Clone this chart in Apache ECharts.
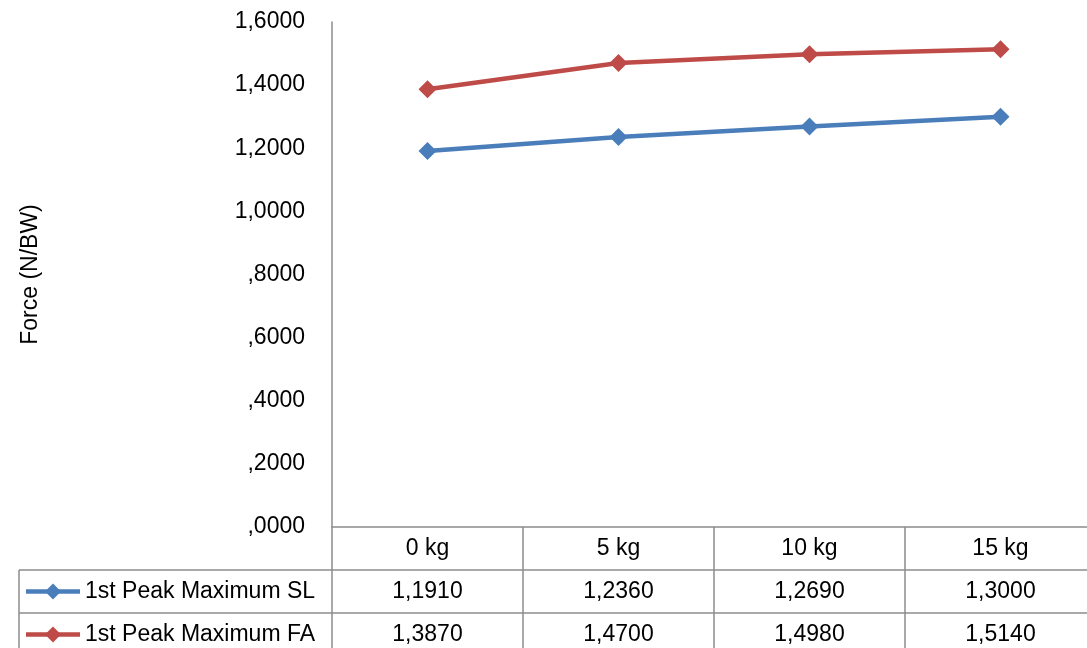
<!DOCTYPE html>
<html><head><meta charset="utf-8">
<script src="https://cdn.jsdelivr.net/npm/echarts@6/dist/echarts.min.js"></script>
<style>html,body{margin:0;padding:0;background:#fff;overflow:hidden}#c{width:1096px;height:648px}</style>
</head><body><div id="c"></div>
<script>
const categories = ['0 kg', '5 kg', '10 kg', '15 kg'];
const seriesNames = ['1st Peak Maximum SL', '1st Peak Maximum FA'];
const valuesSL = [1.191, 1.236, 1.269, 1.300];
const valuesFA = [1.387, 1.470, 1.498, 1.514];
const yTicks = { min: 0, max: 1.6, interval: 0.2 };
const yTitle = 'Force (N/BW)';

const colors = ['#4A7EBB', '#BE4B48'];
const FONT = 'Liberation Sans';
const gridCol = '#8C8C8C';
const FS = 23;
function fmt(v) {
  let s = v.toFixed(4).replace('.', ',');
  if (s.startsWith('0,')) s = s.slice(1);
  return s;
}

const chart = echarts.init(document.getElementById('c'));
const seriesData = [valuesSL, valuesFA];
chart.setOption({
  animation: false,
  textStyle: { fontFamily: FONT },
  grid: { left: 332, top: 22, right: 0, height: 505, containLabel: false },
  xAxis: {
    type: 'category', data: categories, boundaryGap: true,
    axisLine: { lineStyle: { color: gridCol, width: 1.5 } },
    axisTick: { show: true, interval: 0, length: 43, lineStyle: { color: gridCol, width: 1.5 } },
    axisLabel: { color: '#000', fontSize: FS, margin: 10, fontFamily: FONT }
  },
  yAxis: {
    type: 'value', min: yTicks.min, max: yTicks.max, interval: yTicks.interval,
    name: yTitle, nameLocation: 'middle', nameGap: 290, nameRotate: 90,
    nameTextStyle: { color: '#000', fontSize: FS, fontFamily: FONT },
    axisLine: { show: true, lineStyle: { color: gridCol, width: 1.5 } },
    axisTick: { show: false },
    splitLine: { show: false },
    axisLabel: { color: '#000', fontSize: FS, margin: 27, fontFamily: FONT, formatter: fmt }
  },
  series: seriesNames.map((n, i) => ({
    name: n, type: 'line', data: seriesData[i],
    symbol: 'diamond', symbolSize: 18, showSymbol: true,
    lineStyle: { color: colors[i], width: 4.5 },
    itemStyle: { color: colors[i] }
  }))
});

// Data table below the plot, positioned from the axis scale
const x0 = chart.convertToPixel({ xAxisIndex: 0 }, 0);
const x1 = chart.convertToPixel({ xAxisIndex: 0 }, 1);
const step = x1 - x0;
const yBase = chart.convertToPixel({ yAxisIndex: 0 }, 0);
const rowH = 43;
const leftEdge = 19;
const gLeft = x0 - step / 2;
const gRight = gLeft + step * categories.length;
const g = [];
const ls = { stroke: gridCol, lineWidth: 1.5 };
for (let r = 1; r <= 3; r++) {
  const y = yBase + rowH * r;
  g.push({ type: 'line', shape: { x1: leftEdge, y1: y, x2: gRight, y2: y }, style: ls });
}
g.push({ type: 'line', shape: { x1: leftEdge, y1: yBase + rowH, x2: leftEdge, y2: yBase + rowH * 3 }, style: ls });
for (let c = 0; c <= categories.length; c++) {
  const x = gLeft + step * c;
  g.push({ type: 'line', shape: { x1: x, y1: yBase + rowH, x2: x, y2: yBase + rowH * 3 }, style: ls });
}
seriesNames.forEach((n, i) => {
  const cy = yBase + rowH * (i + 1) + rowH / 2;
  g.push({ type: 'line', shape: { x1: 26, y1: cy, x2: 80, y2: cy }, style: { stroke: colors[i], lineWidth: 4.5 } });
  g.push({ type: 'polygon', shape: { points: [[53, cy - 8], [61, cy], [53, cy + 8], [45, cy]] }, style: { fill: colors[i] } });
  g.push({ type: 'text', x: 85, y: cy, style: { text: n, fontSize: FS, fontFamily: FONT, fill: '#000', textVerticalAlign: 'middle', verticalAlign: 'middle' } });
  seriesData[i].forEach((v, j) => {
    const cx = chart.convertToPixel({ xAxisIndex: 0 }, j);
    g.push({ type: 'text', x: cx, y: cy, style: { text: fmt(v), fontSize: FS, fontFamily: FONT, fill: '#000', align: 'center', verticalAlign: 'middle', textAlign: 'center', textVerticalAlign: 'middle' } });
  });
});
chart.setOption({ graphic: g });
</script></body></html>
